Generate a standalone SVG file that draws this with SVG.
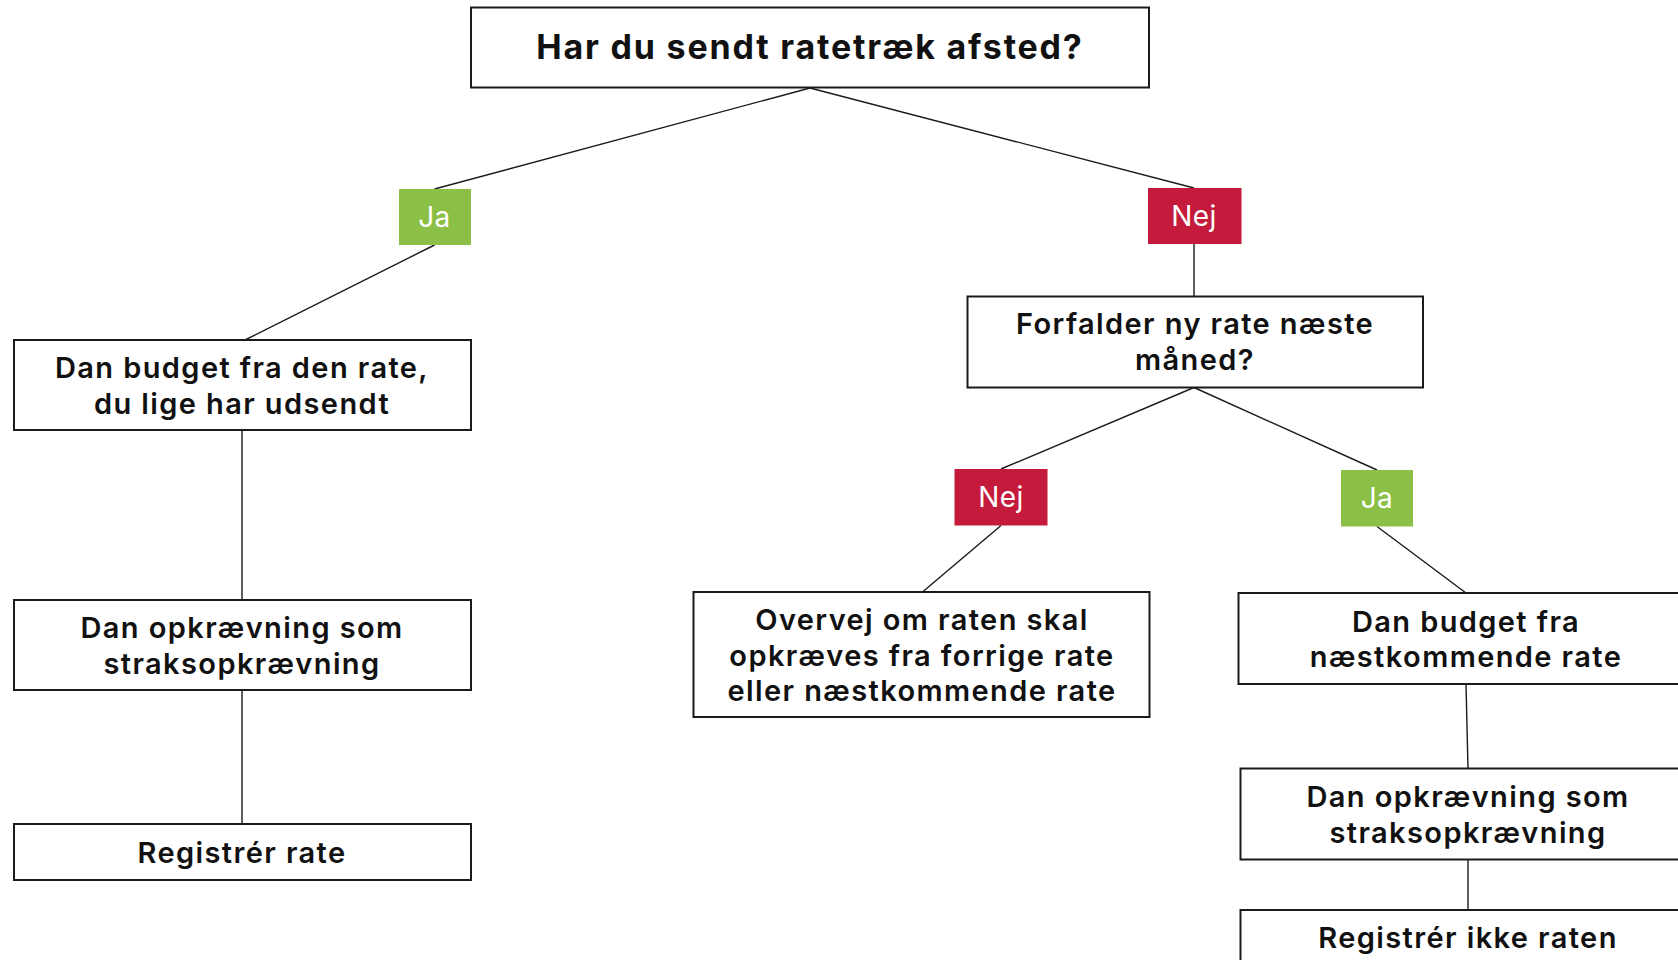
<svg xmlns="http://www.w3.org/2000/svg" width="1678" height="960" viewBox="0 0 1678 960">
<style>
.box{fill:#fff;stroke:#1a1a1a;stroke-width:2}
.t{font-family:Inter,"Open Sans","Liberation Sans",sans-serif;font-weight:600;font-size:29px;letter-spacing:1.4px;fill:#111;text-anchor:middle;dominant-baseline:central}
.title{font-weight:700;font-size:34px;letter-spacing:1.8px}
.lab{font-family:Inter,"Open Sans","Liberation Sans",sans-serif;font-weight:400;font-size:28px;letter-spacing:0.5px;fill:#fff;text-anchor:middle;dominant-baseline:central}
.ja{fill:#8bbf45}
.nej{fill:#c41b3d}
.c{stroke:#1a1a1a;stroke-width:1.4;fill:none}
</style>
<rect width="1678" height="960" fill="#fff"/>
<g id="connectors">
<line class="c" x1="810" y1="88" x2="434.5" y2="189"/>
<line class="c" x1="810" y1="88" x2="1194" y2="188"/>
<line class="c" x1="434.5" y1="245" x2="245" y2="340"/>
<line class="c" x1="242" y1="430" x2="242" y2="600"/>
<line class="c" x1="242" y1="690" x2="242" y2="824"/>
<line class="c" x1="1194" y1="244" x2="1194" y2="296.5"/>
<line class="c" x1="1194" y1="387.5" x2="1001" y2="469"/>
<line class="c" x1="1194" y1="387.5" x2="1377" y2="470"/>
<line class="c" x1="1001" y1="525.5" x2="922.5" y2="592"/>
<line class="c" x1="1377" y1="526.5" x2="1466" y2="593"/>
<line class="c" x1="1466" y1="684" x2="1468" y2="768.5"/>
<line class="c" x1="1468" y1="859.5" x2="1468" y2="910"/>
</g>
<g id="n-top">
<rect class="box" x="471" y="7.5" width="678" height="80"/>
<text class="t title" x="810" y="46">Har du sendt ratetræk afsted?</text>
</g>
<g id="l-ja1">
<rect class="ja" x="399" y="189" width="72" height="56"/>
<text class="lab" x="434.5" y="217">Ja</text>
</g>
<g id="l-nej1">
<rect class="nej" x="1148" y="188" width="93.5" height="56"/>
<text class="lab" x="1194" y="216">Nej</text>
</g>
<g id="n-budget1">
<rect class="box" x="14" y="340" width="457" height="90"/>
<text class="t"><tspan x="242" y="367">Dan budget fra den rate,</tspan><tspan x="242" y="402.5">du lige har udsendt</tspan></text>
</g>
<g id="n-opk1">
<rect class="box" x="14" y="600" width="457" height="90"/>
<text class="t"><tspan x="242" y="627">Dan opkrævning som</tspan><tspan x="242" y="662.5">straksopkrævning</tspan></text>
</g>
<g id="n-reg1">
<rect class="box" x="14" y="824" width="457" height="56"/>
<text class="t" x="242" y="852">Registrér rate</text>
</g>
<g id="n-forfalder">
<rect class="box" x="967.5" y="296.5" width="455.5" height="91"/>
<text class="t"><tspan x="1195" y="323">Forfalder ny rate næste</tspan><tspan x="1195" y="358.5">måned?</tspan></text>
</g>
<g id="l-nej2">
<rect class="nej" x="954.5" y="469" width="93" height="56.5"/>
<text class="lab" x="1001" y="497">Nej</text>
</g>
<g id="l-ja2">
<rect class="ja" x="1341" y="470" width="72" height="56.5"/>
<text class="lab" x="1377" y="498">Ja</text>
</g>
<g id="n-overvej">
<rect class="box" x="693.5" y="592" width="456" height="125"/>
<text class="t"><tspan x="922" y="619">Overvej om raten skal</tspan><tspan x="922" y="654.5">opkræves fra forrige rate</tspan><tspan x="922" y="690">eller næstkommende rate</tspan></text>
</g>
<g id="n-budget2">
<rect class="box" x="1238.5" y="593" width="456" height="91"/>
<text class="t"><tspan x="1466" y="620.5">Dan budget fra</tspan><tspan x="1466" y="656">næstkommende rate</tspan></text>
</g>
<g id="n-opk2">
<rect class="box" x="1240.5" y="768.5" width="456" height="91"/>
<text class="t"><tspan x="1468" y="796">Dan opkrævning som</tspan><tspan x="1468" y="831.5">straksopkrævning</tspan></text>
</g>
<g id="n-reg2">
<rect class="box" x="1240.5" y="910" width="456" height="70"/>
<text class="t" x="1468" y="937.5">Registrér ikke raten</text>
</g>
</svg>
